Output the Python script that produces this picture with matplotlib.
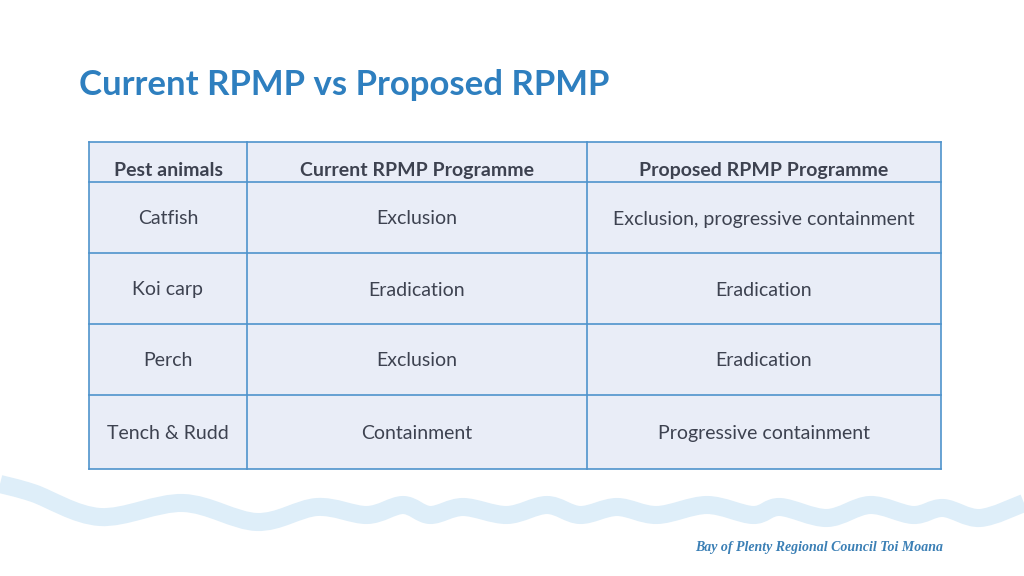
import matplotlib.pyplot as plt
from matplotlib.path import Path
from matplotlib.patches import PathPatch, Rectangle

title = 'Current RPMP vs Proposed RPMP'
headers = ['Pest animals', 'Current RPMP Programme', 'Proposed RPMP Programme']
pests = ['Catfish', 'Koi carp', 'Perch', 'Tench & Rudd']
current = ['Exclusion', 'Eradication', 'Exclusion', 'Containment']
proposed = ['Exclusion, progressive containment', 'Eradication', 'Eradication',
            'Progressive containment']
footer = 'Bay of Plenty Regional Council Toi Moana'

# table grid in pixels
col_edges = [89, 247, 587, 941]
row_edges = [142, 182, 253, 324, 395, 469]

# decorative wave (pixel coords of crests/troughs)
wave_x = [0, 33, 100, 183, 257, 317, 367, 403, 430, 463, 507, 547, 580, 617,
          657, 707, 753, 780, 827, 870, 913, 943, 980, 1024]
wave_y = [484, 493, 517, 503, 522, 507, 515, 505, 515, 507, 515, 505, 515, 507,
          515, 505, 515, 507, 518, 505, 515, 508, 518, 503]

fig = plt.figure(figsize=(10.24, 5.76), dpi=100)
ax = fig.add_axes([0, 0, 1, 1])
ax.set_xlim(0, 1024)
ax.set_ylim(576, 0)
ax.axis('off')

# wave: catmull-rom through the points, as cubic bezier segments
pts = list(zip(wave_x, wave_y))
ext = [pts[0]] + pts + [pts[-1]]
verts = [pts[0]]
codes = [Path.MOVETO]
for i in range(1, len(ext) - 2):
    p0, p1, p2, p3 = ext[i - 1], ext[i], ext[i + 1], ext[i + 2]
    c1 = (p1[0] + (p2[0] - p0[0]) / 6, p1[1] + (p2[1] - p0[1]) / 6)
    c2 = (p2[0] - (p3[0] - p1[0]) / 6, p2[1] - (p3[1] - p1[1]) / 6)
    verts += [c1, c2, p2]
    codes += [Path.CURVE4] * 3
ax.add_patch(PathPatch(Path(verts, codes), fill=False, edgecolor='#deeef9',
                       lw=13, capstyle='butt', joinstyle='round'))

ax.text(79, 85, title, fontsize=25, fontweight='bold', color='#2e7fbf',
        family='Lato', va='center', ha='left')

fill = '#e9edf7'
edge = '#4f93cc'
text_c = '#3d4250'
ax.add_patch(Rectangle((col_edges[0], row_edges[0]), col_edges[-1] - col_edges[0],
                       row_edges[-1] - row_edges[0], facecolor=fill, edgecolor='none'))
for x in col_edges:
    ax.plot([x, x], [row_edges[0], row_edges[-1]], color=edge, lw=1.2)
for y in row_edges:
    ax.plot([col_edges[0], col_edges[-1]], [y, y], color=edge, lw=1.2)

centers = [(col_edges[i] + col_edges[i + 1]) / 2 for i in range(3)]
for i, h in enumerate(headers):
    ax.text(centers[i], (row_edges[0] + row_edges[1]) / 2 + 14, h, fontsize=14,
            fontweight='bold', color=text_c, family='Lato', ha='center',
            va='baseline')
for r in range(len(pests)):
    yb = (row_edges[r + 1] + row_edges[r + 2]) / 2 + 7
    for i, val in enumerate([pests[r], current[r], proposed[r]]):
        ax.text(centers[i], yb, val, fontsize=14, color=text_c, family='Lato',
                ha='center', va='baseline')

ax.text(943, 548, footer, fontsize=10, style='italic', fontweight='bold',
        color='#3a7fb5', family='Liberation Serif', ha='right', va='center')

fig.savefig('out.png', dpi=100)
